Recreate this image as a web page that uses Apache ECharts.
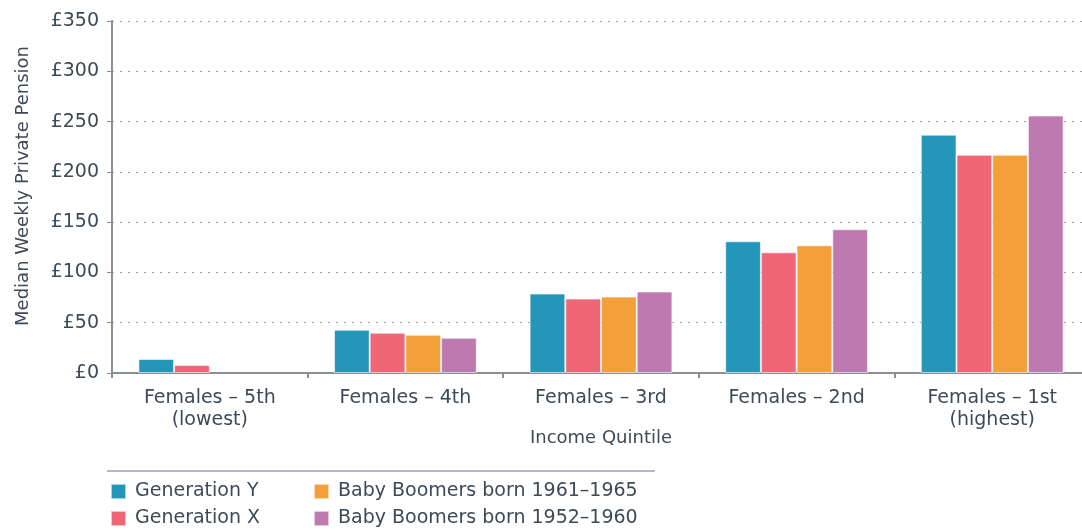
<!DOCTYPE html>
<html>
<head>
<meta charset="utf-8">
<script src="https://cdn.jsdelivr.net/npm/echarts@6/dist/echarts.min.js"></script>
<style>
  html, body { margin: 0; padding: 0; background: #fff; }
  #chart { width: 1082px; height: 530px; }
</style>
</head>
<body>
<div id="chart"></div>
<script>
const categories = ['Females – 5th\n(lowest)', 'Females – 4th', 'Females – 3rd', 'Females – 2nd', 'Females – 1st\n(highest)'];
const genY = [14, 43, 79, 131, 237];
const genX = [8, 40, 74, 120, 217];
const boomers6165 = [null, 38, 76, 127, 217];
const boomers5260 = [null, 35, 81, 143, 256];
const yTicks = [0, 50, 100, 150, 200, 250, 300, 350];

const txt = '#3e4a55';
const font = '"DejaVu Sans", sans-serif';

const chart = echarts.init(document.getElementById('chart'));

function bar(name, data, color) {
  return {
    name: name,
    type: 'bar',
    data: data,
    barGap: '0%',
    barCategoryGap: '27%',
    itemStyle: { color: color, borderColor: 'rgba(255,255,255,0.6)', borderWidth: 1 },
  };
}

// one legend per item so the 2x2 layout is exact
function legendItem(name, left, top) {
  return {
    left: left,
    top: top,
    itemWidth: 15,
    itemHeight: 15,
    icon: 'rect',
    textStyle: { color: txt, fontSize: 19, fontFamily: font, padding: [0, 0, 0, 4] },
    data: [name],
  };
}

const option = {
  animation: false,
  textStyle: { fontFamily: font },
  grid: { left: 112, right: -8, top: 21, bottom: 157, outerBoundsMode: 'none' },
  legend: [
    legendItem('Generation Y', 105, 477),
    legendItem('Generation X', 105, 504),
    legendItem('Baby Boomers born 1961–1965', 308, 477),
    legendItem('Baby Boomers born 1952–1960', 308, 504),
  ],
  graphic: [{
    type: 'line',
    shape: { x1: 107, y1: 471, x2: 655, y2: 471 },
    style: { stroke: '#6b747c', lineWidth: 1 },
  }],
  xAxis: {
    type: 'category',
    data: categories,
    name: 'Income Quintile',
    nameLocation: 'middle',
    nameGap: 56,
    nameMoveOverlap: false,
    nameTextStyle: { color: txt, fontSize: 18, fontFamily: font },
    axisLine: { lineStyle: { color: '#8a8f93', width: 2 } },
    axisTick: { show: true, length: 5, lineStyle: { color: '#8a8f93', width: 2 } },
    axisLabel: { color: txt, fontSize: 19, margin: 14, lineHeight: 22, fontFamily: font },
  },
  yAxis: {
    type: 'value',
    min: yTicks[0],
    max: yTicks[yTicks.length - 1],
    interval: 50,
    name: 'Median Weekly Private Pension',
    nameLocation: 'middle',
    nameRotate: 90,
    nameGap: 80,
    nameMoveOverlap: false,
    nameTextStyle: { color: txt, fontSize: 18, fontFamily: font, padding: [0, 0, 0, 22] },
    axisLine: { show: true, lineStyle: { color: '#8a8f93', width: 2 } },
    axisTick: { show: true, length: 5, lineStyle: { color: '#8a8f93', width: 1 } },
    axisLabel: { color: txt, fontSize: 19, margin: 13, formatter: v => '£' + v, fontFamily: font },
    splitLine: { show: true, lineStyle: { color: '#9a9fa3', type: [2, 6], width: 1.2 } },
  },
  series: [
    bar('Generation Y', genY, '#2396b9'),
    bar('Generation X', genX, '#ef6676'),
    bar('Baby Boomers born 1961–1965', boomers6165, '#f4a03a'),
    bar('Baby Boomers born 1952–1960', boomers5260, '#bd7ab0'),
  ],
};

chart.setOption(option);
</script>
</body>
</html>
